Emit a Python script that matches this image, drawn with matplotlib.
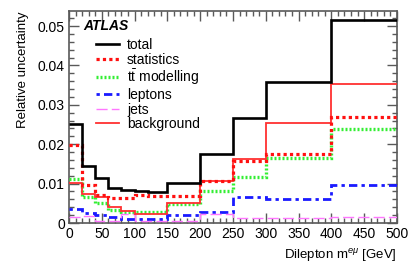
import matplotlib
matplotlib.use("Agg")
import matplotlib.pyplot as plt
import numpy as np
from matplotlib.lines import Line2D
from matplotlib.ticker import MultipleLocator, FuncFormatter

plt.rcParams["font.family"] = ["Liberation Sans", "DejaVu Sans"]
plt.rcParams["mathtext.fontset"] = "custom"
plt.rcParams["mathtext.rm"] = "Liberation Sans"
plt.rcParams["mathtext.it"] = "Liberation Sans:italic"

# bin edges in GeV and relative uncertainty per bin
bin_edges = [0, 20, 40, 60, 80, 100, 120, 150, 200, 250, 300, 400, 500]
total = [0.0252, 0.0144, 0.0115, 0.0089, 0.0084, 0.0081, 0.0078, 0.0102, 0.0175, 0.0266, 0.0357, 0.0514]
statistics = [0.0198, 0.0096, 0.0071, 0.0064, 0.0064, 0.0071, 0.0068, 0.0068, 0.0106, 0.0157, 0.0175, 0.0268]
ttbar_modelling = [0.0112, 0.0067, 0.0050, 0.0034, 0.0027, 0.0027, 0.0027, 0.0048, 0.0080, 0.0118, 0.0164, 0.0239]
leptons = [0.0035, 0.0025, 0.0021, 0.0014, 0.0010, 0.0011, 0.0011, 0.0021, 0.0029, 0.0065, 0.0060, 0.0096]
jets = [0.0014, 0.0017, 0.0006, 0.0006, 0.0022, 0.0006, 0.0005, 0.0004, 0.0022, 0.0012, 0.0012, 0.0016]
background = [0.0101, 0.0073, 0.0066, 0.0040, 0.0031, 0.0024, 0.0024, 0.0052, 0.0106, 0.0162, 0.0255, 0.0353]

# label -> (values, line style)
series = {
    "total": (total, dict(color="black", lw=1.9)),
    "statistics": (statistics, dict(color="#ff1010", lw=2.3, ls=(0, (1.0, 1.0)))),
    r"$\mathrm{t\bar{t}}$ modelling": (ttbar_modelling, dict(color="#33ee33", lw=2.4, ls=(0, (0.6, 0.6)))),
    "leptons": (leptons, dict(color="#1a1aff", lw=2.0, ls=(0, (1.2, 1.5, 3, 1.5)))),
    "jets": (jets, dict(color="#ff77ff", lw=1.0, ls=(0, (8, 3)))),
    "background": (background, dict(color="#ff3030", lw=1.3)),
}
zorders = {"total": 6, "statistics": 5, "background": 4}

fig = plt.figure(figsize=(4.14, 2.69), dpi=100)
ax = fig.add_axes([0.1667, 0.171, 0.792, 0.788])

edges = np.array(bin_edges)
for name, (vals, style) in series.items():
    ax.stairs(vals, edges, baseline=None, zorder=zorders.get(name, 3), **style)

ax.set_xlim(0, 500)
ax.set_ylim(0, 0.0538)
ax.xaxis.set_major_locator(MultipleLocator(50))
ax.xaxis.set_minor_locator(MultipleLocator(10))
ax.yaxis.set_major_locator(MultipleLocator(0.01))
ax.yaxis.set_minor_locator(MultipleLocator(0.002))
ax.yaxis.set_major_formatter(FuncFormatter(lambda v, p: "0" if abs(v) < 1e-9 else f"{v:g}"))

frame_col = "0.35"
for sp in ax.spines.values():
    sp.set_color(frame_col)
    sp.set_linewidth(1.2)
ax.tick_params(which="both", direction="in", top=True, right=True, color=frame_col, width=1.0)
ax.tick_params(which="major", length=7, labelsize=10, pad=3)
ax.tick_params(which="minor", length=3.5)

ax.set_xlabel(r"Dilepton m$^{e\mu}$ [GeV]", fontsize=9.5, loc="right", labelpad=4)
ax.set_ylabel("Relative uncertainty", fontsize=9.5, loc="top", labelpad=6)

ax.text(0.045, 0.93, "ATLAS", transform=ax.transAxes, fontsize=10, fontweight="bold",
        fontstyle="italic", va="center", ha="left")

handles = [Line2D([], [], **style) for vals, style in series.values()]
ax.legend(handles, list(series.keys()), loc="upper left", bbox_to_anchor=(0.075, 0.885),
          frameon=False, fontsize=10, handlelength=1.6, handletextpad=0.6,
          labelspacing=0.05, borderpad=0.2, borderaxespad=0.0)

fig.savefig("out.png", dpi=100)
